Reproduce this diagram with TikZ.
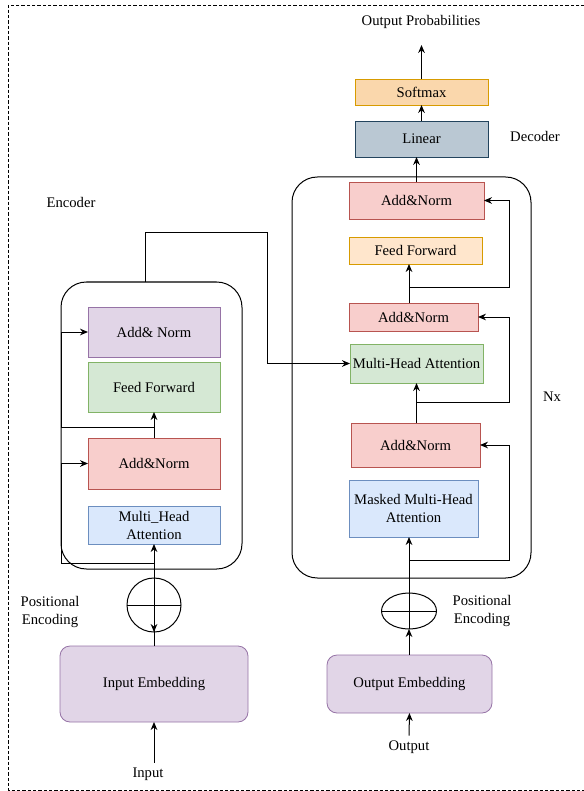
\documentclass[tikz,border=0pt]{standalone}
\usepackage{fontspec}
\setmainfont{Liberation Serif}
\usetikzlibrary{arrows.meta,shapes.geometric}
\definecolor{purpfill}{HTML}{E1D5E7}
\definecolor{purpline}{HTML}{9673A6}
\definecolor{greenfill}{HTML}{D5E8D4}
\definecolor{greenline}{HTML}{82B366}
\definecolor{redfill}{HTML}{F8CECC}
\definecolor{redline}{HTML}{B85450}
\definecolor{bluefill}{HTML}{DAE8FC}
\definecolor{blueline}{HTML}{6C8EBF}
\definecolor{orangefill}{HTML}{FAD7AC}
\definecolor{orangeline}{HTML}{D79B00}
\definecolor{peachfill}{HTML}{FFE6CC}
\definecolor{slatefill}{HTML}{BAC8D3}
\definecolor{slateline}{HTML}{23445D}

\begin{document}
\begin{tikzpicture}[x=0.75pt,y=-0.75pt,font=\fontsize{11}{13.5}\selectfont,
    >={Stealth[length=6pt,width=5pt]},line width=0.75pt,
    block/.style={draw,inner sep=0pt,outer sep=0pt,align=center,line width=0.6pt},
    purpbox/.style={block,fill=purpfill,draw=purpline},
    greenbox/.style={block,fill=greenfill,draw=greenline},
    redbox/.style={block,fill=redfill,draw=redline},
    bluebox/.style={block,fill=bluefill,draw=blueline},
    orangebox/.style={block,fill=orangefill,draw=orangeline},
    peachbox/.style={block,fill=peachfill,draw=orangeline},
    slatebox/.style={block,fill=slatefill,draw=slateline},
    frame/.style={draw,rounded corners=19pt,inner sep=0pt,outer sep=0pt}]
    \useasboundingbox (0,0) rectangle (584,791);
    \draw[line width=0.5pt,dash pattern=on 2.5pt off 1.5pt] (590,5) -- (8,5) -- (8,790) -- (590,790);

    % encoder and decoder frames
    \node[frame,minimum width=135.75pt,minimum height=215.25pt] (encframe) at (151.5,425.5) {};
    \node[frame,minimum width=179.25pt,minimum height=300.75pt] (decframe) at (411.5,377.5) {};

    % encoder
    \node (enclabel) at (71,202) {Encoder};
    \node[purpbox,minimum width=99pt,minimum height=37.5pt] (encan2) at (154,332) {Add\& Norm};
    \node[greenbox,minimum width=99pt,minimum height=37.5pt] (encff) at (154,387) {Feed Forward};
    \node[redbox,minimum width=99pt,minimum height=38.25pt] (encan1) at (154,463.5) {Add\&Norm};
    \node[bluebox,minimum width=99pt,minimum height=28.5pt] (encmha) at (154,525) {Multi\_Head\\Attention};
    \node[draw,circle,minimum size=40.5pt,inner sep=0pt,outer sep=0pt] (encpe) at (154,605) {};
    \node[align=center] (encpelabel) at (50,612) {Positional\\Encoding};
    \node[purpbox,rounded corners=7.5pt,minimum width=141pt,minimum height=57pt] (inemb) at (154,684) {Input Embedding};
    \node (input) at (148,774) {Input};

    % decoder
    \node (outprob) at (421,22) {Output Probabilities};
    \node[orangebox,minimum width=99.75pt,minimum height=19.5pt] (softmax) at (421.5,92) {Softmax};
    \node[slatebox,minimum width=99.75pt,minimum height=27pt] (linear) at (421.5,139) {Linear};
    \node (declabel) at (535,136) {Decoder};
    \node[redbox,minimum width=101.25pt,minimum height=27.75pt] (decan3) at (416.5,200.5) {Add\&Norm};
    \node[peachbox,minimum width=99.75pt,minimum height=20.25pt] (decff) at (415.5,250.5) {Feed Forward};
    \node[redbox,minimum width=96.75pt,minimum height=21pt] (decan2) at (413.5,317) {Add\&Norm};
    \node[greenbox,minimum width=99.75pt,minimum height=29.25pt] (decmha) at (416.5,363.5) {Multi-Head Attention};
    \node[redbox,minimum width=96.75pt,minimum height=33pt] (decan1) at (415.5,445) {Add\&Norm};
    \node[bluebox,minimum width=96.75pt,minimum height=42.75pt] (decmmha) at (413.5,508.5) {Masked Multi-Head\\Attention};
    \node (nx) at (552,397) {Nx};
    \node[draw,ellipse,minimum width=41.25pt,minimum height=27pt,inner sep=0pt,outer sep=0pt] (decpe) at (409,611) {};
    \node[align=center] (decpelabel) at (482,611) {Positional\\Encoding};
    \node[purpbox,rounded corners=7.5pt,minimum width=123.75pt,minimum height=43.5pt] (outemb) at (409.5,684) {Output Embedding};
    \node (output) at (409,747) {Output};

    % branch points
    \coordinate (encres1) at (154,563);
    \coordinate (encres2) at (154,427);
    \coordinate (encout) at (145,282);
    \coordinate (decres1) at (409,560);
    \coordinate (decres2) at (416.5,402);
    \coordinate (decres3) at (409,287);

    % encoder connectors
    \draw[->] (input.north -| inemb) -- (inemb.south);
    \draw[->] (inemb.north) -- (encmha.south);
    \draw[->] (encpe.north) -- (encpe.south);
    \draw (encpe.west) -- (encpe.east);
    \draw[->] (encan1.north) -- (encff.south);
    \draw[->] (encres1) -- (61,563) |- (encan1.west);
    \draw[->] (encres2) -- (61,427) |- (encan2.west);
    \draw[->] (encout) -- (145,233) -- (267,233) |- (decmha.west);

    % decoder connectors
    \draw[->] (output.north) -- (outemb.south);
    \draw[->] (outemb.north -| decpe) -- (decpe.south);
    \draw (decpe.west) -- (decpe.east);
    \draw[->] (decpe.south) -- (decmmha.south -| decpe);
    \draw[->] (decres1) -- (509,560) |- (decan1.east);
    \draw[->] (decan1.north -| decmha) -- (decmha.south);
    \draw[->] (decres2) -- (509,402) |- (decan2.east);
    \draw[->] (decan2.north -| decpe) -- (decff.south -| decpe);
    \draw[->] (decres3) -- (509,287) |- (decan3.east);
    \draw[->] (decan3.north) -- (decan3.north |- linear.south);
    \draw[->] (linear.north) -- (softmax.south);
    \draw[->] (softmax.north) -- ++(0,-34);
\end{tikzpicture}
\end{document}
